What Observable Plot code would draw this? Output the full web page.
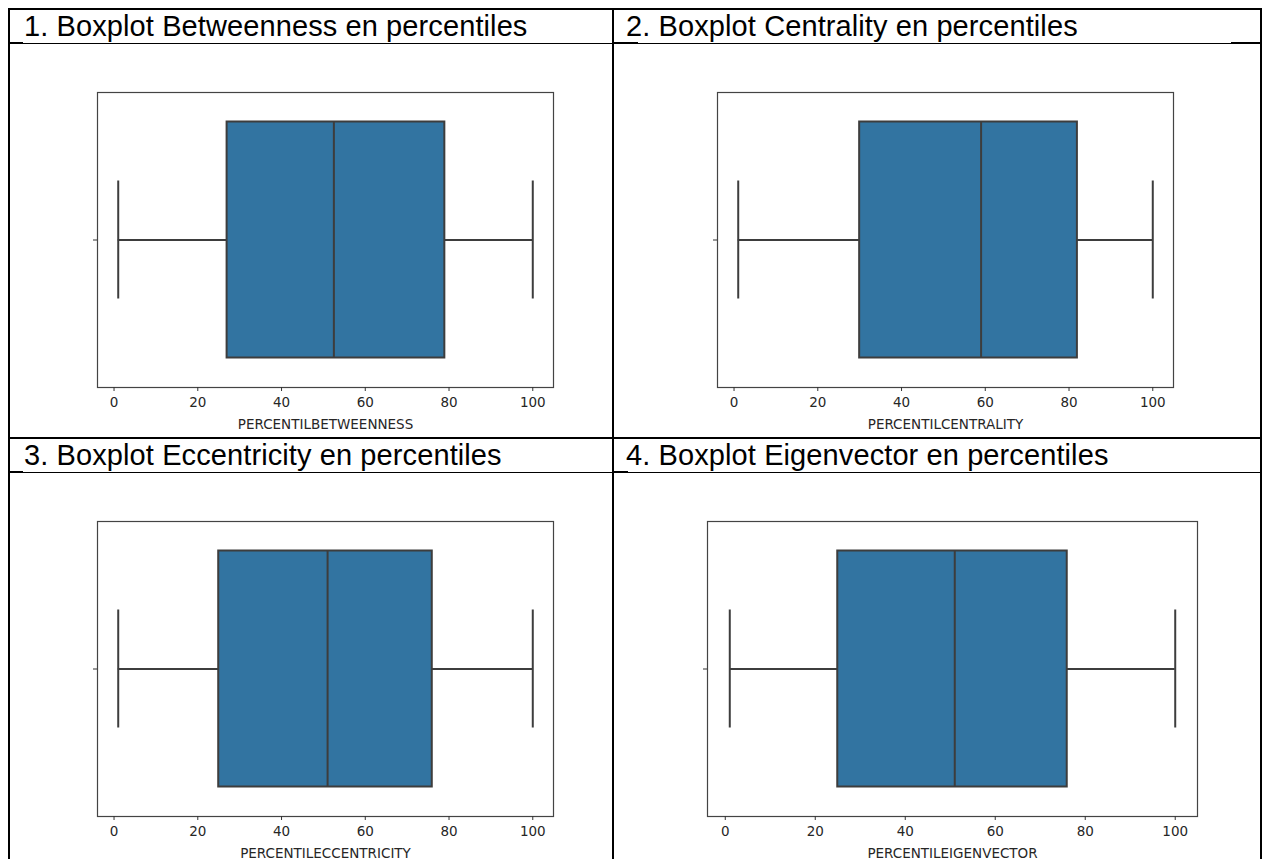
<!DOCTYPE html>
<html>
<head>
<meta charset="utf-8">
<script src="https://cdn.jsdelivr.net/npm/d3@7"></script>
<script src="https://cdn.jsdelivr.net/npm/@observablehq/plot@0.6"></script>
<style>
  html, body { margin: 0; padding: 0; background: #fff; width: 1263px; height: 859px; overflow: hidden; }
  .ln { position: absolute; background: #000; }
  .title { position: absolute; font-family: "Liberation Sans", Arial, sans-serif; font-size: 29px; line-height: 29px; color: #000; white-space: nowrap; letter-spacing: 0.1px; }
  .plot { position: absolute; }
  .plot svg { overflow: visible; }
</style>
</head>
<body>
<div id="root"></div>
<script>
// ---- data ----
const titles = [
  "1. Boxplot Betweenness en percentiles",
  "2. Boxplot Centrality en percentiles",
  "3. Boxplot Eccentricity en percentiles",
  "4. Boxplot Eigenvector en percentiles"
];
const axisLabels = ["PERCENTILBETWEENNESS", "PERCENTILCENTRALITY", "PERCENTILECCENTRICITY", "PERCENTILEIGENVECTOR"];
const mins    = [1, 1, 1, 1];
const q1s     = [27, 30, 25, 25];
const medians = [52.5, 59, 51, 51];
const q3s     = [79, 82, 76, 76];
const maxs    = [100, 100, 100, 100];
const xTicks  = [0, 20, 40, 60, 80, 100];

// ---- layout (not data) ----
const frames = [
  {left: 97,  top: 92,  w: 456, h: 295},
  {left: 717, top: 92,  w: 456, h: 295},
  {left: 97,  top: 521, w: 456, h: 295},
  {left: 707, top: 521, w: 490, h: 295}
];
const titlePos = [{x: 24, y: 11.5}, {x: 626, y: 11.5}, {x: 24, y: 440.5}, {x: 626, y: 440.5}];

const root = document.getElementById("root");
function line(x, y, w, h) {
  const d = document.createElement("div");
  d.className = "ln";
  Object.assign(d.style, {left: x + "px", top: y + "px", width: w + "px", height: h + "px"});
  root.appendChild(d);
}
// table borders
line(8, 8, 1254, 2);      // top
line(8, 8, 2, 860);       // left
line(1260, 8, 2, 860);    // right
line(612, 8, 2, 860);     // column divider
line(8, 43, 1254, 1);     // row 1 header line
line(8, 437, 1254, 2);    // row 2 top
line(8, 472, 1254, 1);    // row 2 header line
// little thick segments
line(8, 42, 15, 2); line(612, 42, 26, 2); line(1231, 42, 31, 2);
line(8, 471, 15, 2); line(612, 471, 16, 2);

titles.forEach((t, i) => {
  const d = document.createElement("div");
  d.className = "title";
  d.textContent = t;
  d.style.left = titlePos[i].x + "px";
  d.style.top = titlePos[i].y + "px";
  root.appendChild(d);
});

const boxFill = "#3274a1";
const gray = "#3d3d3d";
const mL = 40, mT = 12, mR = 12, mB = 50;

frames.forEach((f, i) => {
  const row = [{min: mins[i], q1: q1s[i], med: medians[i], q3: q3s[i], max: maxs[i]}];
  const chart = Plot.plot({
    width: f.w + mL + mR,
    height: f.h + mT + mB,
    marginLeft: mL, marginTop: mT, marginRight: mR, marginBottom: mB,
    style: {fontFamily: "DejaVu Sans, sans-serif", fontSize: "13.5px", color: "#262626", background: "transparent"},
    x: {domain: [-3.95, 104.95]},
    y: {domain: [-0.5, 0.5]},
    marks: [
      Plot.ruleY(row, {y: () => 0, x1: "min", x2: "q1", stroke: gray, strokeWidth: 2}),
      Plot.ruleY(row, {y: () => 0, x1: "q3", x2: "max", stroke: gray, strokeWidth: 2}),
      Plot.ruleX(row, {x: "min", y1: () => -0.2, y2: () => 0.2, stroke: gray, strokeWidth: 2}),
      Plot.ruleX(row, {x: "max", y1: () => -0.2, y2: () => 0.2, stroke: gray, strokeWidth: 2}),
      Plot.rect(row, {x1: "q1", x2: "q3", y1: () => -0.4, y2: () => 0.4, fill: boxFill, stroke: gray, strokeWidth: 2}),
      Plot.ruleX(row, {x: "med", y1: () => -0.4, y2: () => 0.4, stroke: gray, strokeWidth: 2}),
      Plot.frame({stroke: "#444", strokeWidth: 1.2}),
      Plot.axisY({ticks: [0], tickFormat: () => "", tickSize: 4, label: null, stroke: "#333"}),
      Plot.axisX({ticks: xTicks, tickSize: 4, tickPadding: 6, stroke: "#333", fill: "#262626",
                  label: axisLabels[i], labelAnchor: "center", labelArrow: "none", labelOffset: 41})
    ]
  });
  const wrap = document.createElement("div");
  wrap.className = "plot";
  wrap.style.left = (f.left - mL) + "px";
  wrap.style.top = (f.top - mT) + "px";
  wrap.appendChild(chart);
  root.appendChild(wrap);
});
</script>
</body>
</html>
